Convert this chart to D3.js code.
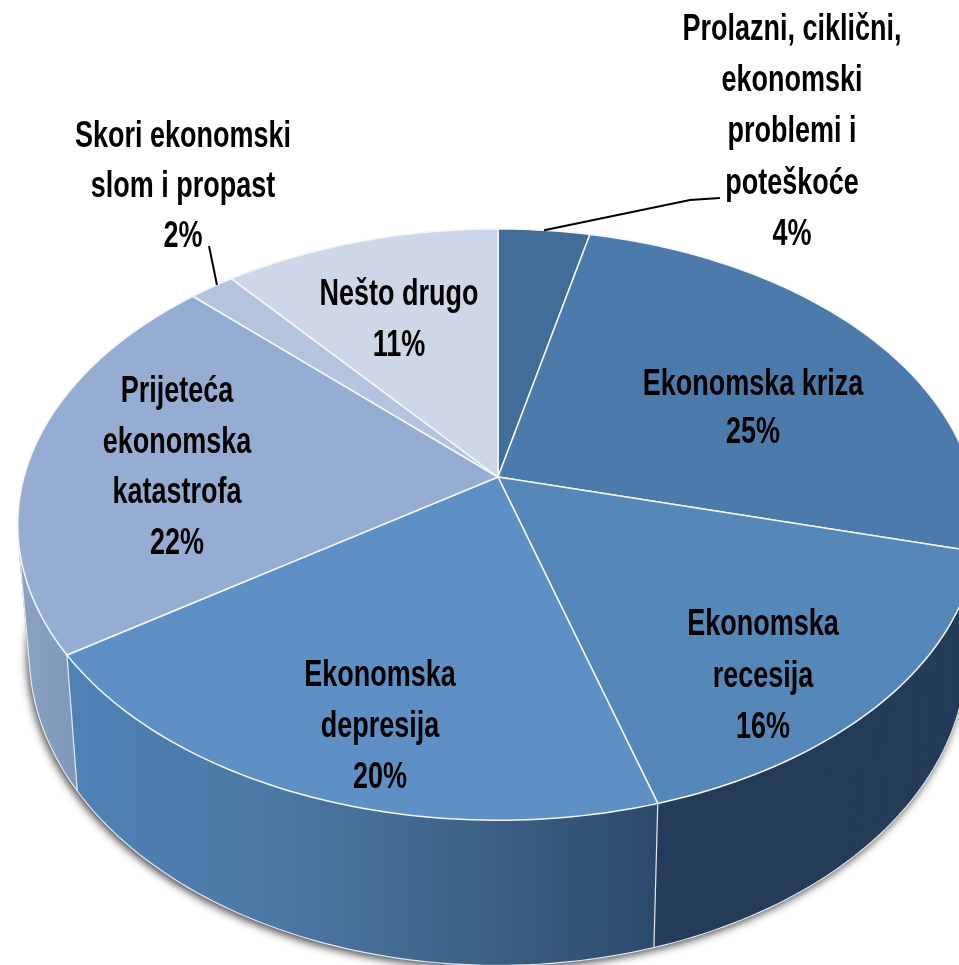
<!DOCTYPE html>
<html><head><meta charset="utf-8">
<script src="https://cdnjs.cloudflare.com/ajax/libs/d3/7.8.5/d3.min.js"></script>
<style>html,body{margin:0;padding:0;background:#fff;overflow:hidden}svg{display:block}</style>
</head><body>
<script>
const categories = ["Prolazni, ciklični, ekonomski problemi i poteškoće","Ekonomska kriza","Ekonomska recesija","Ekonomska depresija","Prijeteća ekonomska katastrofa","Skori ekonomski slom i propast","Nešto drugo"];
const values = [3.6,25.4,16.4,20.1,21.8,1.8,10.9];
const labelLines = [
 ["Prolazni, ciklični,","ekonomski","problemi i","poteškoće","4%"],
 ["Ekonomska kriza","25%"],
 ["Ekonomska","recesija","16%"],
 ["Ekonomska","depresija","20%"],
 ["Prijeteća","ekonomska","katastrofa","22%"],
 ["Skori ekonomski","slom i propast","2%"],
 ["Nešto drugo","11%"]
];
const topColors = ["#426d98","#4c7aab","#5587b9","#5e90c6","#95add3","#b4c4df","#cdd7e8"];
const wallColors = ["#2f5478","#2f5478","#243c58","url(#depWall)","url(#katWall)","#8aa0bd","#8aa0bd"];

const W=959,H=965;
const svg=d3.select("body").append("svg").attr("width",W).attr("height",H);
const defs=svg.append("defs");
const dep=defs.append("linearGradient").attr("id","depWall").attr("gradientUnits","userSpaceOnUse").attr("x1",78).attr("x2",655).attr("y1",0).attr("y2",0);
[[0,"#4f81b5"],[0.35,"#4c78a4"],[0.7,"#3d6187"],[1,"#2c4a6b"]].forEach(s=>dep.append("stop").attr("offset",s[0]).attr("stop-color",s[1]));
const kat=defs.append("linearGradient").attr("id","katWall").attr("gradientUnits","userSpaceOnUse").attr("x1",22).attr("x2",78).attr("y1",0).attr("y2",0);
[[0,"#8aa2c0"],[1,"#7f98ba"]].forEach(s=>kat.append("stop").attr("offset",s[0]).attr("stop-color",s[1]));
defs.append("filter").attr("id","sh").attr("x","-10%").attr("y","-10%").attr("width","120%").attr("height","120%").append("feGaussianBlur").attr("stdDeviation",4);
defs.append("filter").attr("id","soft").attr("x","-5%").attr("y","-5%").attr("width","110%").attr("height","110%").append("feGaussianBlur").attr("stdDeviation",0.45);

// perspective projection of the unit disc
const cx=498,cy=477,A=474,B=288,P=-0.161;
function proj(a){const u=Math.sin(a),v=-Math.cos(a),w=1+P*v;return [cx+A*u/w,cy+B*v/w];}
function lower(p){return [cx+(p[0]-cx)*0.976,p[1]+100+0.055*p[1]];}
const slices=d3.pie().sort(null).value(d=>d)(values).map((d,i)=>({...d,i}));
const line=d3.line();
function arcPts(s){const n=Math.max(8,Math.ceil((s.endAngle-s.startAngle)*50));
  return d3.range(n+1).map(k=>proj(s.startAngle+(s.endAngle-s.startAngle)*k/n));}

// front-facing runs of an arc: the rim turns away from its drop vector there
function faces(a,b){const l=lower(a);return (b[0]-a[0])*(l[1]-a[1])-(b[1]-a[1])*(l[0]-a[0])<0;}
function frontPts(s){const t=arcPts(s);return t.filter((p,k)=>
  (k<t.length-1&&faces(p,t[k+1]))||(k>0&&faces(t[k-1],p)));}
function wallPath(s){const t=frontPts(s);
  return d3.range(t.length-1).map(k=>line([t[k],t[k+1],lower(t[k+1]),lower(t[k])])+"Z").join("");}

// drop shadow beneath the body
const full=d3.range(0,361,2).map(d=>lower(proj(d*Math.PI/180)));
svg.append("path").attr("d",line(full)+"Z").attr("fill","#444").attr("transform","translate(-2,3)").attr("filter","url(#sh)");

// side walls
const walls=slices.filter(s=>frontPts(s).length>1);
svg.append("g").selectAll("path").data(walls).join("path")
  .attr("d",wallPath).attr("fill",s=>wallColors[s.i]).attr("stroke",s=>wallColors[s.i]).attr("stroke-width",0.8);
const edge=svg.append("g").attr("fill","none").attr("stroke","#e4e8ee").attr("stroke-width",1.2);
edge.selectAll("path.low").data(walls).join("path").attr("class","low")
  .attr("d",s=>line(frontPts(s).map(lower)));
edge.selectAll("path.seam").data(walls.slice(1)).join("path").attr("class","seam")
  .attr("d",s=>{const p=frontPts(s)[0];return line([p,lower(p)]);});
edge.selectAll("path.sil").data(walls.slice(-1)).join("path").attr("class","sil")
  .attr("d",s=>{const f=frontPts(s),p=f[f.length-1];return line([p,lower(p)]);});

// top faces
svg.append("g").selectAll("path").data(slices).join("path")
  .attr("d",s=>line([[cx,cy],...arcPts(s)])+"Z")
  .attr("fill",s=>topColors[s.i]).attr("stroke","#f4f6fa").attr("stroke-width",1.5).attr("stroke-linejoin","round");

// leader lines
const mid=s=>proj((s.startAngle+s.endAngle)/2);
const leaders=[{i:0,via:[[690,200],[720,198]]},{i:5,via:[[209,246]],end:[217,285]}];
svg.append("g").selectAll("path").data(leaders).join("path")
  .attr("d",l=>line([l.end||mid(slices[l.i]),...l.via]))
  .attr("fill","none").attr("stroke","#000").attr("stroke-width",2);

// labels: centre x, first baseline, line gap
const labelPos=[[792,40,51.2],[753,395,48],[763,635,51.5],[380,686,51],[177,402,50.5],[183,147,50],[399,305,51]];
const g=svg.append("g").attr("filter","url(#soft)");
labelLines.forEach((lines,i)=>{
  const [x,y,gap]=labelPos[i];
  lines.forEach((t,k)=>{
    g.append("text").attr("transform",`translate(${x},${y+k*gap}) scale(0.75,1)`)
     .attr("text-anchor","middle").attr("font-family","'Liberation Sans',sans-serif")
     .attr("font-weight","bold").attr("font-size",36).attr("fill","#000").text(t);
  });
});
</script>
</body></html>
